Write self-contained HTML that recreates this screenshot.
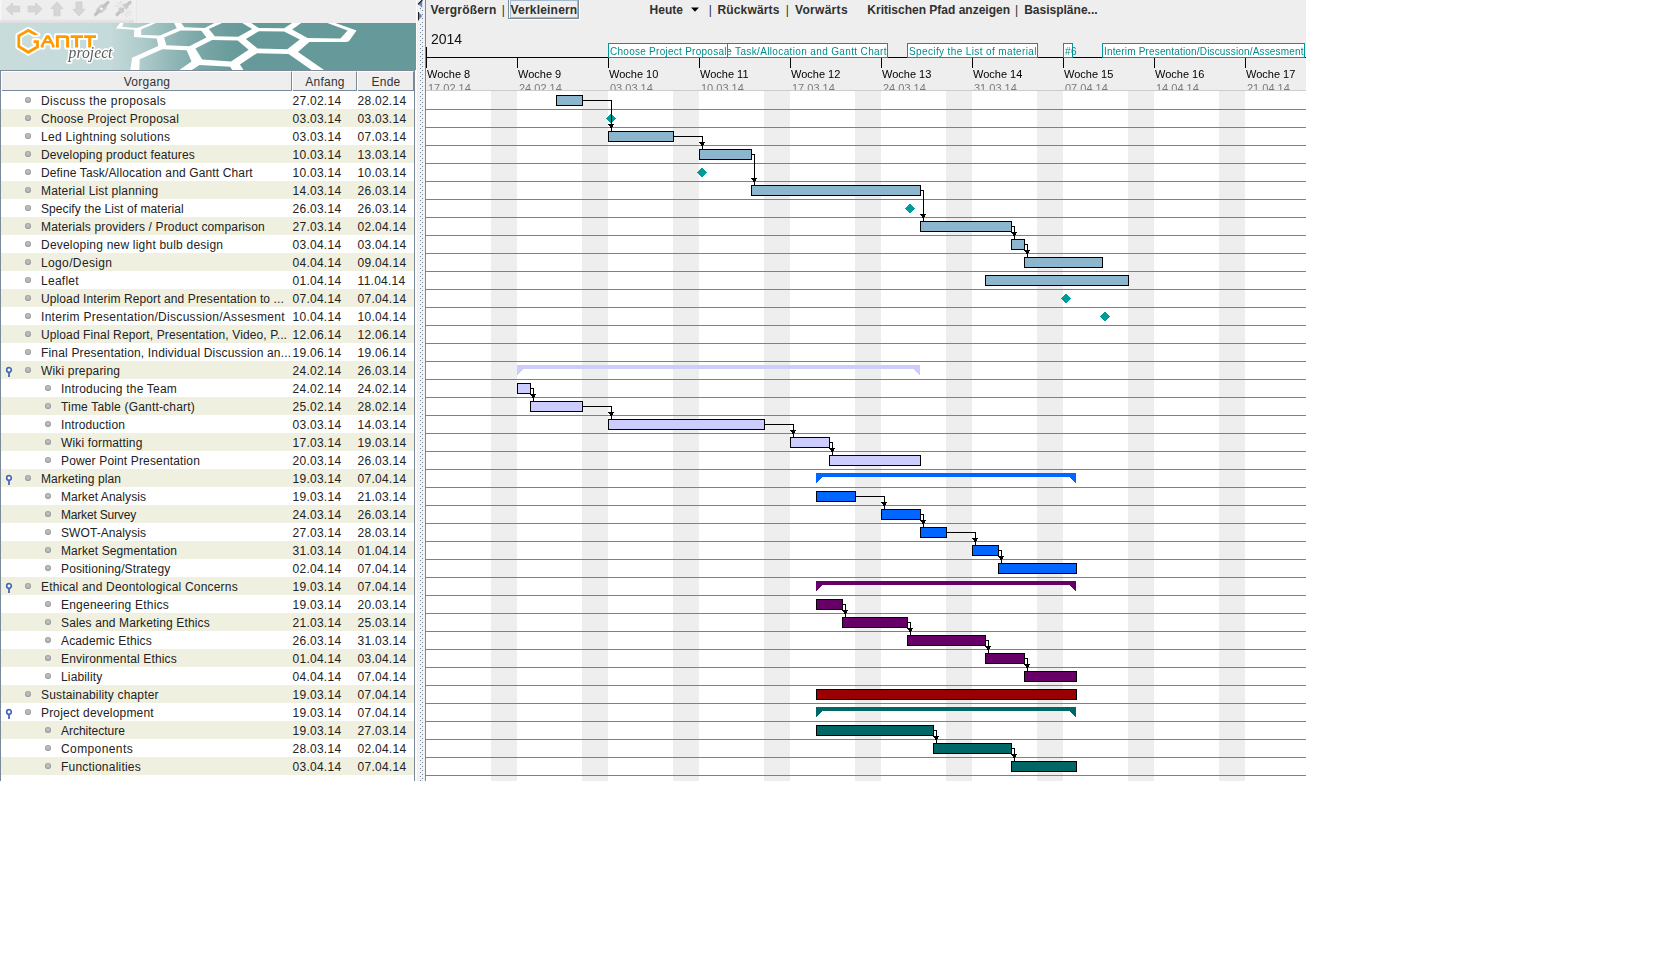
<!DOCTYPE html>
<html><head><meta charset="utf-8"><title>GanttProject</title>
<style>
html,body{margin:0;padding:0;background:#fff;}
body{width:1665px;height:969px;position:relative;overflow:hidden;font-family:"Liberation Sans",sans-serif;}
#app{position:absolute;left:0;top:0;width:1306px;height:781px;background:#eeeeee;overflow:hidden;}
.abs{position:absolute;}
.tb{position:absolute;top:3px;height:14px;line-height:14px;font-size:12px;font-weight:bold;color:#303030;white-space:nowrap;}
.row{position:absolute;left:1px;width:413px;height:18px;}
.row.alt{background:#f0f0e0;}
.cell{position:absolute;top:1px;height:18px;line-height:18px;font-size:12px;color:#222;white-space:nowrap;}
.dc{letter-spacing:0.25px;}
.bul{position:absolute;top:6px;width:6px;height:6px;border-radius:50%;background:radial-gradient(circle at 50% 46%,#c6c6c6 0%,#b4b4b4 40%,#868a92 72%,#7b808a 100%);}
.hd{position:absolute;top:71px;height:19px;line-height:21px;letter-spacing:0.25px;padding-left:1px;font-size:12px;color:#333;text-align:center;box-sizing:border-box;border-left:1px solid #fff;border-top:1px solid #fff;border-right:1px solid #7a8a99;background:#eeeeee;}
.wk{opacity:0.999;position:absolute;top:67px;height:14px;line-height:14px;font-size:11px;color:#000;white-space:nowrap;}
.dt{opacity:0.999;position:absolute;top:81px;height:14px;line-height:14px;font-size:11px;color:#7a7a7a;white-space:nowrap;}
.tick{position:absolute;top:57px;width:1px;height:11px;background:#000;}
.we{position:absolute;top:91px;width:26px;height:690px;background:#eeeeee;}
.hl{position:absolute;left:426px;width:880px;height:1px;background:#808080;}
.bar{position:absolute;height:11px;box-sizing:border-box;border:1px solid #000;}
.lbl{opacity:0.999;position:absolute;top:43px;height:15px;box-sizing:border-box;border:1px solid #009999;background:#fff;color:#008c8c;font-size:10px;line-height:16.8px;white-space:nowrap;overflow:hidden;padding-left:1px;}
.k{position:absolute;background:#000;}
</style></head><body>
<div id="app">

<div class="abs" style="left:0;top:0;width:136px;height:23px;background:linear-gradient(to bottom,#eeeeee 0,#eeeeee 19px,#e6e6e6 20px,#dddddd 23px);"></div>
<div class="abs" style="left:0;top:0;width:2px;height:20px;background:linear-gradient(to right,#fafafa,#eeeeee);"></div>
<div class="abs" style="left:134px;top:0;width:3px;height:23px;background:linear-gradient(to right,#f6f6f6,#e4e4e4);"></div>
<svg class="abs" style="left:0;top:0" width="140" height="22" viewBox="0 0 140 22">
<g fill="#d6d6d6" stroke="#cdcdcd" stroke-width="0.8" stroke-linejoin="round">
<polygon points="6,9 12.5,3 12.5,6.2 19.6,6.2 19.6,11.8 12.5,11.8 12.5,15"/>
<polygon points="28.2,6.2 35.7,6.2 35.7,3 42,9 35.7,15 35.7,11.8 28.2,11.8"/>
<polygon points="57,2 63,8.6 60,8.6 60,15.8 54,15.8 54,8.6 51,8.6"/>
<polygon points="76,2 82,2 82,9.4 85,9.4 79,16 73,9.4 76,9.4"/>
</g>
<g stroke-linecap="round">
<line x1="95.4" y1="14.6" x2="108" y2="2.4" stroke="#c4c4c4" stroke-width="3.2"/>
<polygon points="96.3,9 101,4.2 106.8,4.2 106.8,8.2 102,13 96.3,13" fill="#cecece"/>
<line x1="96.5" y1="13.5" x2="107" y2="3.4" stroke="#bdbdbd" stroke-width="1.8"/>
<circle cx="101.4" cy="8.8" r="1.4" fill="#f8f8f8"/>
<line x1="117" y1="14.6" x2="122.6" y2="9.2" stroke="#c4c4c4" stroke-width="3.2"/>
<line x1="125.4" y1="6.6" x2="130" y2="2.4" stroke="#c4c4c4" stroke-width="3.2"/>
<polygon points="118,9 120.5,7 124.8,11.2 121.5,13.5" fill="#cccccc"/>
<polygon points="122.2,5.2 125,3.2 128.8,7.2 126.2,9.6" fill="#cccccc"/>
<g stroke="#d0d0d0" stroke-width="0.9" stroke-dasharray="1.2 1.2">
<line x1="115.5" y1="5.5" x2="119.5" y2="7"/><line x1="117.5" y1="2.5" x2="121" y2="5.5"/><line x1="120.5" y1="1.5" x2="122" y2="4"/>
<line x1="125.5" y1="14" x2="127" y2="16.5"/><line x1="126.5" y1="12" x2="130" y2="15.5"/><line x1="128" y1="11" x2="131" y2="12.5"/>
</g></g></svg>
<svg class="abs" style="left:0;top:23px" width="416" height="47" viewBox="0 23 416 47">
<defs>
<linearGradient id="bg" gradientUnits="userSpaceOnUse" x1="0" y1="0" x2="416" y2="0">
<stop offset="0" stop-color="#c8dcdc"/><stop offset="0.264" stop-color="#c5dada"/><stop offset="0.337" stop-color="#b0cccc"/><stop offset="0.409" stop-color="#93b8b8"/><stop offset="0.48" stop-color="#7aa7a7"/><stop offset="0.553" stop-color="#6a9c9c"/><stop offset="0.60" stop-color="#669999"/><stop offset="1" stop-color="#669999"/>
</linearGradient>
<filter id="glow" x="-20%" y="-20%" width="140%" height="140%"><feGaussianBlur stdDeviation="0.5"/></filter>
</defs>
<rect x="0" y="23" width="416" height="47" fill="url(#bg)"/>
<polygon fill="#fff" points="119.9,23 115.9,28.6 134.3,29.7 133.9,37.1 156.8,38.6 158.2,46.1 132.1,57.8 130.3,70 324.1,70 298,52 309.3,42.1 346.2,42.1 348.9,41.2 356.6,30.4 335.4,23"/>
<g fill="url(#bg)">
<polygon points="123.5,23 122.2,27 137,27.9 151,23"/>
<polygon points="141.1,29.5 155.9,23 174.1,23 176.7,28.3 160,35.5 141.1,34.9"/>
<polygon points="181.2,23 184.3,27.2 204.6,27.9 214.5,23"/>
<polygon points="208.9,29 222,23 242.2,23 252.2,29 238.2,36.7 214.8,36.2"/>
<polygon points="251.2,23 258.8,28.1 284.1,28.3 292.2,23"/>
<polygon points="292.2,29.5 301.2,23 327.3,23 347.6,30.4 340.4,38.5 307.5,38"/>
<polygon points="164.1,37.6 180.7,30.4 201.4,30.8 206.4,37.6 189.3,46.3 166.3,45.2"/>
<polygon points="195.4,48.4 212.1,40 237.7,40.5 248.6,49.7 231,61.6 202.2,59.6"/>
<polygon points="245.8,38.9 258.8,31.3 284.1,31.5 299.8,39.4 287.2,49.3 257.5,48.4"/>
<polygon points="139.7,59.2 162.3,49.3 186.6,50.2 191.5,61.4 179.4,70 139.3,70"/>
<polygon points="191.8,70 199.5,65 230,66.8 232.3,70"/>
<polygon points="239.9,64.6 257,53.2 288.6,54.1 311.5,70 243.5,70"/>
</g>
<!-- logo -->
<g fill="#fff" stroke="#fff" stroke-width="3.9" stroke-linejoin="round" filter="url(#glow)">
<path d="M28.3,28.8 L38.5,34.6 L34.3,35.3 L28.3,32 L20.2,36.6 L20.2,45.7 L28.3,50.4 L36.1,45.9 L36.1,42.9 L33.5,42.9 L33.5,40.2 L38.9,40.2 L38.9,47.8 L28.3,53.9 L17.4,47.3 L17.4,35 Z"/>
<path fill-rule="evenodd" d="M40.7,47.6 L40.7,45.4 L46.2,35.3 L49.2,35.3 L54.6,45.4 L54.6,47.6 L51.8,47.6 L51.8,45.6 L50.6,43.3 L44.8,43.3 L43.6,45.6 L43.6,47.6 Z M47.7,38.2 L45.9,41 L49.5,41 Z"/>
<path d="M55.9,47.6 V35.2 H65.8 Q69.1,35.2 69.1,38.5 V47.6 H66.1 V39.2 Q66.1,38 64.9,38 H58.8 V47.6 Z"/>
<path d="M70.6,35.2 H83 V38 H78.1 V47.6 H75.1 V38 H70.6 Z"/>
<path d="M84.1,35.2 H96 V38 H91.2 V47.6 H88.2 V38 H84.1 Z"/>
</g>
<g fill="#ff9900">
<path d="M28.3,28.8 L38.5,34.6 L34.3,35.3 L28.3,32 L20.2,36.6 L20.2,45.7 L28.3,50.4 L36.1,45.9 L36.1,42.9 L33.5,42.9 L33.5,40.2 L38.9,40.2 L38.9,47.8 L28.3,53.9 L17.4,47.3 L17.4,35 Z"/>
<path fill-rule="evenodd" d="M40.7,47.6 L40.7,45.4 L46.2,35.3 L49.2,35.3 L54.6,45.4 L54.6,47.6 L51.8,47.6 L51.8,45.6 L50.6,43.3 L44.8,43.3 L43.6,45.6 L43.6,47.6 Z M47.7,38.2 L45.9,41 L49.5,41 Z"/>
<path d="M55.9,47.6 V35.2 H65.8 Q69.1,35.2 69.1,38.5 V47.6 H66.1 V39.2 Q66.1,38 64.9,38 H58.8 V47.6 Z"/>
<path d="M70.6,35.2 H83 V38 H78.1 V47.6 H75.1 V38 H70.6 Z"/>
<path d="M84.1,35.2 H96 V38 H91.2 V47.6 H88.2 V38 H84.1 Z"/>
</g>
<g transform="translate(68.6,58.3) scale(1,1.12)" opacity="0.99">
<text x="0" y="0" font-family="Liberation Serif" font-style="italic" font-size="15.7" stroke="#fff" stroke-width="3.0" stroke-linejoin="round" fill="#fff" filter="url(#glow)">project</text>
<text x="0" y="0" font-family="Liberation Serif" font-style="italic" font-size="15.7" fill="#5c5c5c">project</text>
</g>
</svg>
<div class="abs" style="left:0;top:70px;width:415px;height:1px;background:#7a8a99;"></div>
<div class="abs" style="left:0;top:70px;width:1px;height:711px;background:#7a8a99;"></div>
<div class="abs" style="left:1px;top:71px;width:1px;height:20px;background:#fff;"></div>
<div class="abs" style="left:1px;top:91px;width:413px;height:690px;background:#fff;"></div>
<div class="hd" style="left:1px;width:291px;">Vorgang</div>
<div class="hd" style="left:292px;width:65px;">Anfang</div>
<div class="hd" style="left:357px;width:57px;">Ende</div>
<div class="abs" style="left:2px;top:90px;width:412px;height:1px;background:#7a8a99;"></div>
<div class="abs" style="left:292px;top:71px;width:1px;height:20px;background:#fff;"></div>
<div class="abs" style="left:357px;top:71px;width:1px;height:20px;background:#fff;"></div>
<div class="abs" style="left:414px;top:70px;width:1px;height:711px;background:#7a8a99;"></div>
<div class="abs" style="left:415px;top:70px;width:2px;height:711px;background:#fbfbfb;"></div>
<div class="row" style="top:91px;">
<div class="bul" style="left:24px;"></div>
<div class="cell" style="left:40px;letter-spacing:0.373px;">Discuss the proposals</div>
<div class="cell dc" style="left:291.6px;">27.02.14</div>
<div class="cell dc" style="left:356.6px;">28.02.14</div>
</div>
<div class="row alt" style="top:109px;">
<div class="bul" style="left:24px;"></div>
<div class="cell" style="left:40px;letter-spacing:0.232px;">Choose Project Proposal</div>
<div class="cell dc" style="left:291.6px;">03.03.14</div>
<div class="cell dc" style="left:356.6px;">03.03.14</div>
</div>
<div class="row" style="top:127px;">
<div class="bul" style="left:24px;"></div>
<div class="cell" style="left:40px;letter-spacing:0.281px;">Led Lightning solutions</div>
<div class="cell dc" style="left:291.6px;">03.03.14</div>
<div class="cell dc" style="left:356.6px;">07.03.14</div>
</div>
<div class="row alt" style="top:145px;">
<div class="bul" style="left:24px;"></div>
<div class="cell" style="left:40px;letter-spacing:0.141px;">Developing product features</div>
<div class="cell dc" style="left:291.6px;">10.03.14</div>
<div class="cell dc" style="left:356.6px;">13.03.14</div>
</div>
<div class="row" style="top:163px;">
<div class="bul" style="left:24px;"></div>
<div class="cell" style="left:40px;letter-spacing:0.137px;">Define Task/Allocation and Gantt Chart</div>
<div class="cell dc" style="left:291.6px;">10.03.14</div>
<div class="cell dc" style="left:356.6px;">10.03.14</div>
</div>
<div class="row alt" style="top:181px;">
<div class="bul" style="left:24px;"></div>
<div class="cell" style="left:40px;letter-spacing:0.183px;">Material List planning</div>
<div class="cell dc" style="left:291.6px;">14.03.14</div>
<div class="cell dc" style="left:356.6px;">26.03.14</div>
</div>
<div class="row" style="top:199px;">
<div class="bul" style="left:24px;"></div>
<div class="cell" style="left:40px;letter-spacing:0.071px;">Specify the List of material</div>
<div class="cell dc" style="left:291.6px;">26.03.14</div>
<div class="cell dc" style="left:356.6px;">26.03.14</div>
</div>
<div class="row alt" style="top:217px;">
<div class="bul" style="left:24px;"></div>
<div class="cell" style="left:40px;letter-spacing:0.145px;">Materials providers / Product comparison</div>
<div class="cell dc" style="left:291.6px;">27.03.14</div>
<div class="cell dc" style="left:356.6px;">02.04.14</div>
</div>
<div class="row" style="top:235px;">
<div class="bul" style="left:24px;"></div>
<div class="cell" style="left:40px;letter-spacing:0.210px;">Developing new light bulb design</div>
<div class="cell dc" style="left:291.6px;">03.04.14</div>
<div class="cell dc" style="left:356.6px;">03.04.14</div>
</div>
<div class="row alt" style="top:253px;">
<div class="bul" style="left:24px;"></div>
<div class="cell" style="left:40px;letter-spacing:0.366px;">Logo/Design</div>
<div class="cell dc" style="left:291.6px;">04.04.14</div>
<div class="cell dc" style="left:356.6px;">09.04.14</div>
</div>
<div class="row" style="top:271px;">
<div class="bul" style="left:24px;"></div>
<div class="cell" style="left:40px;letter-spacing:0.270px;">Leaflet</div>
<div class="cell dc" style="left:291.6px;">01.04.14</div>
<div class="cell dc" style="left:356.6px;">11.04.14</div>
</div>
<div class="row alt" style="top:289px;">
<div class="bul" style="left:24px;"></div>
<div class="cell" style="left:40px;letter-spacing:0.105px;">Upload Interim Report and Presentation to ...</div>
<div class="cell dc" style="left:291.6px;">07.04.14</div>
<div class="cell dc" style="left:356.6px;">07.04.14</div>
</div>
<div class="row" style="top:307px;">
<div class="bul" style="left:24px;"></div>
<div class="cell" style="left:40px;letter-spacing:0.303px;">Interim Presentation/Discussion/Assesment</div>
<div class="cell dc" style="left:291.6px;">10.04.14</div>
<div class="cell dc" style="left:356.6px;">10.04.14</div>
</div>
<div class="row alt" style="top:325px;">
<div class="bul" style="left:24px;"></div>
<div class="cell" style="left:40px;letter-spacing:0.109px;">Upload Final Report, Presentation, Video, P...</div>
<div class="cell dc" style="left:291.6px;">12.06.14</div>
<div class="cell dc" style="left:356.6px;">12.06.14</div>
</div>
<div class="row" style="top:343px;">
<div class="bul" style="left:24px;"></div>
<div class="cell" style="left:40px;letter-spacing:0.172px;">Final Presentation, Individual Discussion an...</div>
<div class="cell dc" style="left:291.6px;">19.06.14</div>
<div class="cell dc" style="left:356.6px;">19.06.14</div>
</div>
<div class="row alt" style="top:361px;">
<svg class="abs" style="left:4px;top:5px" width="8" height="12" viewBox="0 0 8 12"><circle cx="4" cy="4" r="2.3" fill="#fff" stroke="#4569b8" stroke-width="1.7"/><rect x="3.1" y="6.6" width="1.8" height="4.4" fill="#4569b8"/></svg>
<div class="bul" style="left:24px;"></div>
<div class="cell" style="left:40px;letter-spacing:0.173px;">Wiki preparing</div>
<div class="cell dc" style="left:291.6px;">24.02.14</div>
<div class="cell dc" style="left:356.6px;">26.03.14</div>
</div>
<div class="row" style="top:379px;">
<div class="bul" style="left:44px;"></div>
<div class="cell" style="left:60px;letter-spacing:0.210px;">Introducing the Team</div>
<div class="cell dc" style="left:291.6px;">24.02.14</div>
<div class="cell dc" style="left:356.6px;">24.02.14</div>
</div>
<div class="row alt" style="top:397px;">
<div class="bul" style="left:44px;"></div>
<div class="cell" style="left:60px;letter-spacing:0.190px;">Time Table (Gantt-chart)</div>
<div class="cell dc" style="left:291.6px;">25.02.14</div>
<div class="cell dc" style="left:356.6px;">28.02.14</div>
</div>
<div class="row" style="top:415px;">
<div class="bul" style="left:44px;"></div>
<div class="cell" style="left:60px;letter-spacing:0.103px;">Introduction</div>
<div class="cell dc" style="left:291.6px;">03.03.14</div>
<div class="cell dc" style="left:356.6px;">14.03.14</div>
</div>
<div class="row alt" style="top:433px;">
<div class="bul" style="left:44px;"></div>
<div class="cell" style="left:60px;letter-spacing:0.142px;">Wiki formatting</div>
<div class="cell dc" style="left:291.6px;">17.03.14</div>
<div class="cell dc" style="left:356.6px;">19.03.14</div>
</div>
<div class="row" style="top:451px;">
<div class="bul" style="left:44px;"></div>
<div class="cell" style="left:60px;letter-spacing:0.149px;">Power Point Presentation</div>
<div class="cell dc" style="left:291.6px;">20.03.14</div>
<div class="cell dc" style="left:356.6px;">26.03.14</div>
</div>
<div class="row alt" style="top:469px;">
<svg class="abs" style="left:4px;top:5px" width="8" height="12" viewBox="0 0 8 12"><circle cx="4" cy="4" r="2.3" fill="#fff" stroke="#4569b8" stroke-width="1.7"/><rect x="3.1" y="6.6" width="1.8" height="4.4" fill="#4569b8"/></svg>
<div class="bul" style="left:24px;"></div>
<div class="cell" style="left:40px;letter-spacing:0.095px;">Marketing plan</div>
<div class="cell dc" style="left:291.6px;">19.03.14</div>
<div class="cell dc" style="left:356.6px;">07.04.14</div>
</div>
<div class="row" style="top:487px;">
<div class="bul" style="left:44px;"></div>
<div class="cell" style="left:60px;letter-spacing:0.066px;">Market Analysis</div>
<div class="cell dc" style="left:291.6px;">19.03.14</div>
<div class="cell dc" style="left:356.6px;">21.03.14</div>
</div>
<div class="row alt" style="top:505px;">
<div class="bul" style="left:44px;"></div>
<div class="cell" style="left:60px;letter-spacing:-0.184px;">Market Survey</div>
<div class="cell dc" style="left:291.6px;">24.03.14</div>
<div class="cell dc" style="left:356.6px;">26.03.14</div>
</div>
<div class="row" style="top:523px;">
<div class="bul" style="left:44px;"></div>
<div class="cell" style="left:60px;letter-spacing:0.078px;">SWOT-Analysis</div>
<div class="cell dc" style="left:291.6px;">27.03.14</div>
<div class="cell dc" style="left:356.6px;">28.03.14</div>
</div>
<div class="row alt" style="top:541px;">
<div class="bul" style="left:44px;"></div>
<div class="cell" style="left:60px;letter-spacing:0.099px;">Market Segmentation</div>
<div class="cell dc" style="left:291.6px;">31.03.14</div>
<div class="cell dc" style="left:356.6px;">01.04.14</div>
</div>
<div class="row" style="top:559px;">
<div class="bul" style="left:44px;"></div>
<div class="cell" style="left:60px;letter-spacing:0.132px;">Positioning/Strategy</div>
<div class="cell dc" style="left:291.6px;">02.04.14</div>
<div class="cell dc" style="left:356.6px;">07.04.14</div>
</div>
<div class="row alt" style="top:577px;">
<svg class="abs" style="left:4px;top:5px" width="8" height="12" viewBox="0 0 8 12"><circle cx="4" cy="4" r="2.3" fill="#fff" stroke="#4569b8" stroke-width="1.7"/><rect x="3.1" y="6.6" width="1.8" height="4.4" fill="#4569b8"/></svg>
<div class="bul" style="left:24px;"></div>
<div class="cell" style="left:40px;letter-spacing:0.198px;">Ethical and Deontological Concerns</div>
<div class="cell dc" style="left:291.6px;">19.03.14</div>
<div class="cell dc" style="left:356.6px;">07.04.14</div>
</div>
<div class="row" style="top:595px;">
<div class="bul" style="left:44px;"></div>
<div class="cell" style="left:60px;letter-spacing:0.216px;">Engeneering Ethics</div>
<div class="cell dc" style="left:291.6px;">19.03.14</div>
<div class="cell dc" style="left:356.6px;">20.03.14</div>
</div>
<div class="row alt" style="top:613px;">
<div class="bul" style="left:44px;"></div>
<div class="cell" style="left:60px;letter-spacing:0.130px;">Sales and Marketing Ethics</div>
<div class="cell dc" style="left:291.6px;">21.03.14</div>
<div class="cell dc" style="left:356.6px;">25.03.14</div>
</div>
<div class="row" style="top:631px;">
<div class="bul" style="left:44px;"></div>
<div class="cell" style="left:60px;letter-spacing:0.146px;">Academic Ethics</div>
<div class="cell dc" style="left:291.6px;">26.03.14</div>
<div class="cell dc" style="left:356.6px;">31.03.14</div>
</div>
<div class="row alt" style="top:649px;">
<div class="bul" style="left:44px;"></div>
<div class="cell" style="left:60px;letter-spacing:0.160px;">Environmental Ethics</div>
<div class="cell dc" style="left:291.6px;">01.04.14</div>
<div class="cell dc" style="left:356.6px;">03.04.14</div>
</div>
<div class="row" style="top:667px;">
<div class="bul" style="left:44px;"></div>
<div class="cell" style="left:60px;letter-spacing:0.152px;">Liability</div>
<div class="cell dc" style="left:291.6px;">04.04.14</div>
<div class="cell dc" style="left:356.6px;">07.04.14</div>
</div>
<div class="row alt" style="top:685px;">
<div class="bul" style="left:24px;"></div>
<div class="cell" style="left:40px;letter-spacing:0.165px;">Sustainability chapter</div>
<div class="cell dc" style="left:291.6px;">19.03.14</div>
<div class="cell dc" style="left:356.6px;">07.04.14</div>
</div>
<div class="row" style="top:703px;">
<svg class="abs" style="left:4px;top:5px" width="8" height="12" viewBox="0 0 8 12"><circle cx="4" cy="4" r="2.3" fill="#fff" stroke="#4569b8" stroke-width="1.7"/><rect x="3.1" y="6.6" width="1.8" height="4.4" fill="#4569b8"/></svg>
<div class="bul" style="left:24px;"></div>
<div class="cell" style="left:40px;letter-spacing:0.180px;">Project development</div>
<div class="cell dc" style="left:291.6px;">19.03.14</div>
<div class="cell dc" style="left:356.6px;">07.04.14</div>
</div>
<div class="row alt" style="top:721px;">
<div class="bul" style="left:44px;"></div>
<div class="cell" style="left:60px;letter-spacing:-0.016px;">Architecture</div>
<div class="cell dc" style="left:291.6px;">19.03.14</div>
<div class="cell dc" style="left:356.6px;">27.03.14</div>
</div>
<div class="row" style="top:739px;">
<div class="bul" style="left:44px;"></div>
<div class="cell" style="left:60px;letter-spacing:0.400px;">Components</div>
<div class="cell dc" style="left:291.6px;">28.03.14</div>
<div class="cell dc" style="left:356.6px;">02.04.14</div>
</div>
<div class="row alt" style="top:757px;">
<div class="bul" style="left:44px;"></div>
<div class="cell" style="left:60px;letter-spacing:0.217px;">Functionalities</div>
<div class="cell dc" style="left:291.6px;">03.04.14</div>
<div class="cell dc" style="left:356.6px;">07.04.14</div>
</div>
<div class="abs" style="left:416px;top:0;width:1px;height:781px;background:#fdfdfd;"></div>
<svg class="abs" style="left:417px;top:0" width="8" height="781"><defs><pattern id="dots" x="0" y="0" width="4" height="4" patternUnits="userSpaceOnUse"><rect x="3" y="0" width="1" height="1" fill="#71839f"/><rect x="0" y="1" width="1" height="1" fill="#fff"/><rect x="1" y="2" width="1" height="1" fill="#71839f"/><rect x="2" y="3" width="1" height="1" fill="#fff"/></pattern></defs>
<rect x="0" y="0" width="8" height="781" fill="#f0f0f0"/>
<rect x="2" y="8" width="5" height="773" fill="url(#dots)"/>
<rect x="0" y="0" width="8" height="8" fill="#f0f0f0"/><rect x="0" y="11" width="5" height="10" fill="#f0f0f0"/>
<polygon points="5.2,0 5.2,7.8 1.2,4" fill="#5f82cc"/><line x1="1" y1="4.3" x2="5.4" y2="-0.1" stroke="#111" stroke-width="1.1"/>
<polygon points="1.4,12 1.4,20 5.3,16" fill="#5f82cc"/><rect x="1" y="12" width="1" height="8.4" fill="#222"/></svg>
<div class="abs" style="left:425px;top:0;width:1px;height:781px;background:#7a8a99;"></div>
<div class="abs" style="left:508px;top:-1px;width:71px;height:20px;box-sizing:border-box;border:1px solid #7a8a99;background:#eeeeee;box-shadow:1px 1px 0 #fff, inset 1px 0 0 #fff;"></div>
<div class="abs" style="left:510px;top:0;width:68px;height:18px;box-sizing:border-box;border:1px solid #a6bacf;border-bottom-width:1.5px;"></div>
<div class="tb" style="left:430.5px;letter-spacing:0.2px;">Vergrößern</div>
<div class="tb" style="left:501.8px;letter-spacing:0px;font-weight:normal;">|</div>
<div class="tb" style="left:510.5px;letter-spacing:0.2px;">Verkleinern</div>
<div class="tb" style="left:649.5px;letter-spacing:0.05px;">Heute</div>
<div class="tb" style="left:708.8px;letter-spacing:0px;font-weight:normal;">|</div>
<div class="tb" style="left:717.5px;letter-spacing:0.15px;">Rückwärts</div>
<div class="tb" style="left:785.7px;letter-spacing:0px;font-weight:normal;">|</div>
<div class="tb" style="left:795px;letter-spacing:0.3px;">Vorwärts</div>
<div class="tb" style="left:867.3px;letter-spacing:0px;">Kritischen Pfad anzeigen</div>
<div class="tb" style="left:1015px;letter-spacing:0px;font-weight:normal;">|</div>
<div class="tb" style="left:1024.2px;letter-spacing:0px;">Basispläne...</div>
<svg class="abs" style="left:690px;top:7px" width="10" height="6"><polygon points="1,0.5 9,0.5 5,4.8" fill="#000"/></svg>
<div class="abs" style="opacity:0.999;left:431px;top:30.5px;font-size:14px;line-height:16px;color:#111;">2014</div>
<div class="abs" style="left:426px;top:57px;width:880px;height:1px;background:#000;"></div>
<div class="abs" style="left:426px;top:47px;width:1px;height:21px;background:#000;"></div>
<div class="wk" style="left:427px;">Woche 8</div>
<div class="dt" style="left:428px;">17.02.14</div>
<div class="tick" style="left:517px;"></div>
<div class="wk" style="left:518px;">Woche 9</div>
<div class="dt" style="left:519px;">24.02.14</div>
<div class="tick" style="left:608px;"></div>
<div class="wk" style="left:609px;">Woche 10</div>
<div class="dt" style="left:610px;">03.03.14</div>
<div class="tick" style="left:699px;"></div>
<div class="wk" style="left:700px;">Woche 11</div>
<div class="dt" style="left:701px;">10.03.14</div>
<div class="tick" style="left:790px;"></div>
<div class="wk" style="left:791px;">Woche 12</div>
<div class="dt" style="left:792px;">17.03.14</div>
<div class="tick" style="left:881px;"></div>
<div class="wk" style="left:882px;">Woche 13</div>
<div class="dt" style="left:883px;">24.03.14</div>
<div class="tick" style="left:972px;"></div>
<div class="wk" style="left:973px;">Woche 14</div>
<div class="dt" style="left:974px;">31.03.14</div>
<div class="tick" style="left:1063px;"></div>
<div class="wk" style="left:1064px;">Woche 15</div>
<div class="dt" style="left:1065px;">07.04.14</div>
<div class="tick" style="left:1154px;"></div>
<div class="wk" style="left:1155px;">Woche 16</div>
<div class="dt" style="left:1156px;">14.04.14</div>
<div class="tick" style="left:1245px;"></div>
<div class="wk" style="left:1246px;">Woche 17</div>
<div class="dt" style="left:1247px;">21.04.14</div>
<div class="abs" style="left:426px;top:91px;width:880px;height:690px;background:#fff;"></div>
<div class="abs" style="left:426px;top:90px;width:880px;height:1px;background:#cccccc;"></div>
<div class="we" style="left:491px;"></div>
<div class="we" style="left:582px;"></div>
<div class="we" style="left:673px;"></div>
<div class="we" style="left:764px;"></div>
<div class="we" style="left:855px;"></div>
<div class="we" style="left:946px;"></div>
<div class="we" style="left:1037px;"></div>
<div class="we" style="left:1128px;"></div>
<div class="we" style="left:1219px;"></div>
<div class="we" style="left:1310px;"></div>
<div class="hl" style="top:109px;"></div>
<div class="hl" style="top:127px;"></div>
<div class="hl" style="top:145px;"></div>
<div class="hl" style="top:163px;"></div>
<div class="hl" style="top:181px;"></div>
<div class="hl" style="top:199px;"></div>
<div class="hl" style="top:217px;"></div>
<div class="hl" style="top:235px;"></div>
<div class="hl" style="top:253px;"></div>
<div class="hl" style="top:271px;"></div>
<div class="hl" style="top:289px;"></div>
<div class="hl" style="top:307px;"></div>
<div class="hl" style="top:325px;"></div>
<div class="hl" style="top:343px;"></div>
<div class="hl" style="top:361px;"></div>
<div class="hl" style="top:379px;"></div>
<div class="hl" style="top:397px;"></div>
<div class="hl" style="top:415px;"></div>
<div class="hl" style="top:433px;"></div>
<div class="hl" style="top:451px;"></div>
<div class="hl" style="top:469px;"></div>
<div class="hl" style="top:487px;"></div>
<div class="hl" style="top:505px;"></div>
<div class="hl" style="top:523px;"></div>
<div class="hl" style="top:541px;"></div>
<div class="hl" style="top:559px;"></div>
<div class="hl" style="top:577px;"></div>
<div class="hl" style="top:595px;"></div>
<div class="hl" style="top:613px;"></div>
<div class="hl" style="top:631px;"></div>
<div class="hl" style="top:649px;"></div>
<div class="hl" style="top:667px;"></div>
<div class="hl" style="top:685px;"></div>
<div class="hl" style="top:703px;"></div>
<div class="hl" style="top:721px;"></div>
<div class="hl" style="top:739px;"></div>
<div class="hl" style="top:757px;"></div>
<div class="hl" style="top:775px;"></div>
<div class="lbl" style="left:699px;width:189px;letter-spacing:0.361px;">Define Task/Allocation and Gantt Chart</div>
<div class="lbl" style="left:608px;width:120px;letter-spacing:0.267px;">Choose Project Proposal</div>
<div class="lbl" style="left:907px;width:131px;letter-spacing:0.378px;">Specify the List of material</div>
<div class="lbl" style="left:1063px;width:10px;letter-spacing:0.500px;overflow:visible;padding-left:1px;">#6</div>
<div class="lbl" style="left:1102px;width:203px;letter-spacing:0.166px;">Interim Presentation/Discussion/Assesment</div>
<div class="bar" style="left:556px;top:95px;width:27px;background:#8cb6ce;"></div>
<div class="bar" style="left:608px;top:131px;width:66px;background:#8cb6ce;"></div>
<div class="bar" style="left:699px;top:149px;width:53px;background:#8cb6ce;"></div>
<div class="bar" style="left:751px;top:185px;width:170px;background:#8cb6ce;"></div>
<div class="bar" style="left:920px;top:221px;width:92px;background:#8cb6ce;"></div>
<div class="bar" style="left:1011px;top:239px;width:14px;background:#8cb6ce;"></div>
<div class="bar" style="left:1024px;top:257px;width:79px;background:#8cb6ce;"></div>
<div class="bar" style="left:985px;top:275px;width:144px;background:#8cb6ce;"></div>
<svg class="abs" style="left:517px;top:365px" width="404" height="11" shape-rendering="crispEdges"><polygon fill="#ccccff" points="0,0 403,0 403,10.9 396.1,4 6,4 0,10"/></svg>
<div class="bar" style="left:517px;top:383px;width:14px;background:#ccccff;"></div>
<div class="bar" style="left:530px;top:401px;width:53px;background:#ccccff;"></div>
<div class="bar" style="left:608px;top:419px;width:157px;background:#ccccff;"></div>
<div class="bar" style="left:790px;top:437px;width:40px;background:#ccccff;"></div>
<div class="bar" style="left:829px;top:455px;width:92px;background:#ccccff;"></div>
<svg class="abs" style="left:816px;top:473px" width="261" height="11" shape-rendering="crispEdges"><polygon fill="#0066ff" points="0,0 260,0 260,10.9 253.1,4 6,4 0,10"/></svg>
<div class="bar" style="left:816px;top:491px;width:40px;background:#0066ff;"></div>
<div class="bar" style="left:881px;top:509px;width:40px;background:#0066ff;"></div>
<div class="bar" style="left:920px;top:527px;width:27px;background:#0066ff;"></div>
<div class="bar" style="left:972px;top:545px;width:27px;background:#0066ff;"></div>
<div class="bar" style="left:998px;top:563px;width:79px;background:#0066ff;"></div>
<svg class="abs" style="left:816px;top:581px" width="261" height="11" shape-rendering="crispEdges"><polygon fill="#660066" points="0,0 260,0 260,10.9 253.1,4 6,4 0,10"/></svg>
<div class="bar" style="left:816px;top:599px;width:27px;background:#660066;"></div>
<div class="bar" style="left:842px;top:617px;width:66px;background:#660066;"></div>
<div class="bar" style="left:907px;top:635px;width:79px;background:#660066;"></div>
<div class="bar" style="left:985px;top:653px;width:40px;background:#660066;"></div>
<div class="bar" style="left:1024px;top:671px;width:53px;background:#660066;"></div>
<div class="bar" style="left:816px;top:689px;width:261px;background:#990000;"></div>
<svg class="abs" style="left:816px;top:707px" width="261" height="11" shape-rendering="crispEdges"><polygon fill="#006666" points="0,0 260,0 260,10.9 253.1,4 6,4 0,10"/></svg>
<div class="bar" style="left:816px;top:725px;width:118px;background:#006666;"></div>
<div class="bar" style="left:933px;top:743px;width:79px;background:#006666;"></div>
<div class="bar" style="left:1011px;top:761px;width:66px;background:#006666;"></div>
<svg class="abs" style="left:605px;top:112.0px;z-index:0" width="13" height="13" shape-rendering="crispEdges"><polygon fill="#009c9c" points="6,1.5 11,6.5 6,11.5 1,6.5"/></svg>
<svg class="abs" style="left:696px;top:166.0px;z-index:0" width="13" height="13" shape-rendering="crispEdges"><polygon fill="#009c9c" points="6,1.5 11,6.5 6,11.5 1,6.5"/></svg>
<svg class="abs" style="left:904px;top:202.0px;z-index:0" width="13" height="13" shape-rendering="crispEdges"><polygon fill="#009c9c" points="6,1.5 11,6.5 6,11.5 1,6.5"/></svg>
<svg class="abs" style="left:1060px;top:292.0px;z-index:0" width="13" height="13" shape-rendering="crispEdges"><polygon fill="#009c9c" points="6,1.5 11,6.5 6,11.5 1,6.5"/></svg>
<svg class="abs" style="left:1099px;top:310.0px;z-index:0" width="13" height="13" shape-rendering="crispEdges"><polygon fill="#009c9c" points="6,1.5 11,6.5 6,11.5 1,6.5"/></svg>
<div class="k" style="left:583px;top:100px;width:29px;height:1px;"></div>
<div class="k" style="left:611px;top:100px;width:1px;height:31px;"></div>
<div class="k" style="left:608px;top:124px;width:6px;height:1px;"></div>
<div class="k" style="left:609px;top:125px;width:4px;height:1px;"></div>
<div class="k" style="left:610px;top:126px;width:3px;height:1px;"></div>
<div class="k" style="left:610px;top:127px;width:2px;height:1px;"></div>
<div class="k" style="left:674px;top:136px;width:29px;height:1px;"></div>
<div class="k" style="left:702px;top:136px;width:1px;height:13px;"></div>
<div class="k" style="left:699px;top:142px;width:6px;height:1px;"></div>
<div class="k" style="left:700px;top:143px;width:4px;height:1px;"></div>
<div class="k" style="left:701px;top:144px;width:3px;height:1px;"></div>
<div class="k" style="left:701px;top:145px;width:2px;height:1px;"></div>
<div class="k" style="left:752px;top:154px;width:3px;height:1px;"></div>
<div class="k" style="left:754px;top:154px;width:1px;height:31px;"></div>
<div class="k" style="left:751px;top:178px;width:6px;height:1px;"></div>
<div class="k" style="left:752px;top:179px;width:4px;height:1px;"></div>
<div class="k" style="left:753px;top:180px;width:3px;height:1px;"></div>
<div class="k" style="left:753px;top:181px;width:2px;height:1px;"></div>
<div class="k" style="left:921px;top:190px;width:3px;height:1px;"></div>
<div class="k" style="left:923px;top:190px;width:1px;height:31px;"></div>
<div class="k" style="left:920px;top:214px;width:6px;height:1px;"></div>
<div class="k" style="left:921px;top:215px;width:4px;height:1px;"></div>
<div class="k" style="left:922px;top:216px;width:3px;height:1px;"></div>
<div class="k" style="left:922px;top:217px;width:2px;height:1px;"></div>
<div class="k" style="left:1012px;top:226px;width:3px;height:1px;"></div>
<div class="k" style="left:1014px;top:226px;width:1px;height:13px;"></div>
<div class="k" style="left:1011px;top:232px;width:6px;height:1px;"></div>
<div class="k" style="left:1012px;top:233px;width:4px;height:1px;"></div>
<div class="k" style="left:1013px;top:234px;width:3px;height:1px;"></div>
<div class="k" style="left:1013px;top:235px;width:2px;height:1px;"></div>
<div class="k" style="left:1025px;top:244px;width:3px;height:1px;"></div>
<div class="k" style="left:1027px;top:244px;width:1px;height:13px;"></div>
<div class="k" style="left:1024px;top:250px;width:6px;height:1px;"></div>
<div class="k" style="left:1025px;top:251px;width:4px;height:1px;"></div>
<div class="k" style="left:1026px;top:252px;width:3px;height:1px;"></div>
<div class="k" style="left:1026px;top:253px;width:2px;height:1px;"></div>
<div class="k" style="left:531px;top:388px;width:3px;height:1px;"></div>
<div class="k" style="left:533px;top:388px;width:1px;height:13px;"></div>
<div class="k" style="left:530px;top:394px;width:6px;height:1px;"></div>
<div class="k" style="left:531px;top:395px;width:4px;height:1px;"></div>
<div class="k" style="left:532px;top:396px;width:3px;height:1px;"></div>
<div class="k" style="left:532px;top:397px;width:2px;height:1px;"></div>
<div class="k" style="left:583px;top:406px;width:29px;height:1px;"></div>
<div class="k" style="left:611px;top:406px;width:1px;height:13px;"></div>
<div class="k" style="left:608px;top:412px;width:6px;height:1px;"></div>
<div class="k" style="left:609px;top:413px;width:4px;height:1px;"></div>
<div class="k" style="left:610px;top:414px;width:3px;height:1px;"></div>
<div class="k" style="left:610px;top:415px;width:2px;height:1px;"></div>
<div class="k" style="left:765px;top:424px;width:29px;height:1px;"></div>
<div class="k" style="left:793px;top:424px;width:1px;height:13px;"></div>
<div class="k" style="left:790px;top:430px;width:6px;height:1px;"></div>
<div class="k" style="left:791px;top:431px;width:4px;height:1px;"></div>
<div class="k" style="left:792px;top:432px;width:3px;height:1px;"></div>
<div class="k" style="left:792px;top:433px;width:2px;height:1px;"></div>
<div class="k" style="left:830px;top:442px;width:3px;height:1px;"></div>
<div class="k" style="left:832px;top:442px;width:1px;height:13px;"></div>
<div class="k" style="left:829px;top:448px;width:6px;height:1px;"></div>
<div class="k" style="left:830px;top:449px;width:4px;height:1px;"></div>
<div class="k" style="left:831px;top:450px;width:3px;height:1px;"></div>
<div class="k" style="left:831px;top:451px;width:2px;height:1px;"></div>
<div class="k" style="left:856px;top:496px;width:29px;height:1px;"></div>
<div class="k" style="left:884px;top:496px;width:1px;height:13px;"></div>
<div class="k" style="left:881px;top:502px;width:6px;height:1px;"></div>
<div class="k" style="left:882px;top:503px;width:4px;height:1px;"></div>
<div class="k" style="left:883px;top:504px;width:3px;height:1px;"></div>
<div class="k" style="left:883px;top:505px;width:2px;height:1px;"></div>
<div class="k" style="left:921px;top:514px;width:3px;height:1px;"></div>
<div class="k" style="left:923px;top:514px;width:1px;height:13px;"></div>
<div class="k" style="left:920px;top:520px;width:6px;height:1px;"></div>
<div class="k" style="left:921px;top:521px;width:4px;height:1px;"></div>
<div class="k" style="left:922px;top:522px;width:3px;height:1px;"></div>
<div class="k" style="left:922px;top:523px;width:2px;height:1px;"></div>
<div class="k" style="left:947px;top:532px;width:29px;height:1px;"></div>
<div class="k" style="left:975px;top:532px;width:1px;height:13px;"></div>
<div class="k" style="left:972px;top:538px;width:6px;height:1px;"></div>
<div class="k" style="left:973px;top:539px;width:4px;height:1px;"></div>
<div class="k" style="left:974px;top:540px;width:3px;height:1px;"></div>
<div class="k" style="left:974px;top:541px;width:2px;height:1px;"></div>
<div class="k" style="left:999px;top:550px;width:3px;height:1px;"></div>
<div class="k" style="left:1001px;top:550px;width:1px;height:13px;"></div>
<div class="k" style="left:998px;top:556px;width:6px;height:1px;"></div>
<div class="k" style="left:999px;top:557px;width:4px;height:1px;"></div>
<div class="k" style="left:1000px;top:558px;width:3px;height:1px;"></div>
<div class="k" style="left:1000px;top:559px;width:2px;height:1px;"></div>
<div class="k" style="left:843px;top:604px;width:3px;height:1px;"></div>
<div class="k" style="left:845px;top:604px;width:1px;height:13px;"></div>
<div class="k" style="left:842px;top:610px;width:6px;height:1px;"></div>
<div class="k" style="left:843px;top:611px;width:4px;height:1px;"></div>
<div class="k" style="left:844px;top:612px;width:3px;height:1px;"></div>
<div class="k" style="left:844px;top:613px;width:2px;height:1px;"></div>
<div class="k" style="left:908px;top:622px;width:3px;height:1px;"></div>
<div class="k" style="left:910px;top:622px;width:1px;height:13px;"></div>
<div class="k" style="left:907px;top:628px;width:6px;height:1px;"></div>
<div class="k" style="left:908px;top:629px;width:4px;height:1px;"></div>
<div class="k" style="left:909px;top:630px;width:3px;height:1px;"></div>
<div class="k" style="left:909px;top:631px;width:2px;height:1px;"></div>
<div class="k" style="left:986px;top:640px;width:3px;height:1px;"></div>
<div class="k" style="left:988px;top:640px;width:1px;height:13px;"></div>
<div class="k" style="left:985px;top:646px;width:6px;height:1px;"></div>
<div class="k" style="left:986px;top:647px;width:4px;height:1px;"></div>
<div class="k" style="left:987px;top:648px;width:3px;height:1px;"></div>
<div class="k" style="left:987px;top:649px;width:2px;height:1px;"></div>
<div class="k" style="left:1025px;top:658px;width:3px;height:1px;"></div>
<div class="k" style="left:1027px;top:658px;width:1px;height:13px;"></div>
<div class="k" style="left:1024px;top:664px;width:6px;height:1px;"></div>
<div class="k" style="left:1025px;top:665px;width:4px;height:1px;"></div>
<div class="k" style="left:1026px;top:666px;width:3px;height:1px;"></div>
<div class="k" style="left:1026px;top:667px;width:2px;height:1px;"></div>
<div class="k" style="left:934px;top:730px;width:3px;height:1px;"></div>
<div class="k" style="left:936px;top:730px;width:1px;height:13px;"></div>
<div class="k" style="left:933px;top:736px;width:6px;height:1px;"></div>
<div class="k" style="left:934px;top:737px;width:4px;height:1px;"></div>
<div class="k" style="left:935px;top:738px;width:3px;height:1px;"></div>
<div class="k" style="left:935px;top:739px;width:2px;height:1px;"></div>
<div class="k" style="left:1012px;top:748px;width:3px;height:1px;"></div>
<div class="k" style="left:1014px;top:748px;width:1px;height:13px;"></div>
<div class="k" style="left:1011px;top:754px;width:6px;height:1px;"></div>
<div class="k" style="left:1012px;top:755px;width:4px;height:1px;"></div>
<div class="k" style="left:1013px;top:756px;width:3px;height:1px;"></div>
<div class="k" style="left:1013px;top:757px;width:2px;height:1px;"></div>
</div>
</body></html>
